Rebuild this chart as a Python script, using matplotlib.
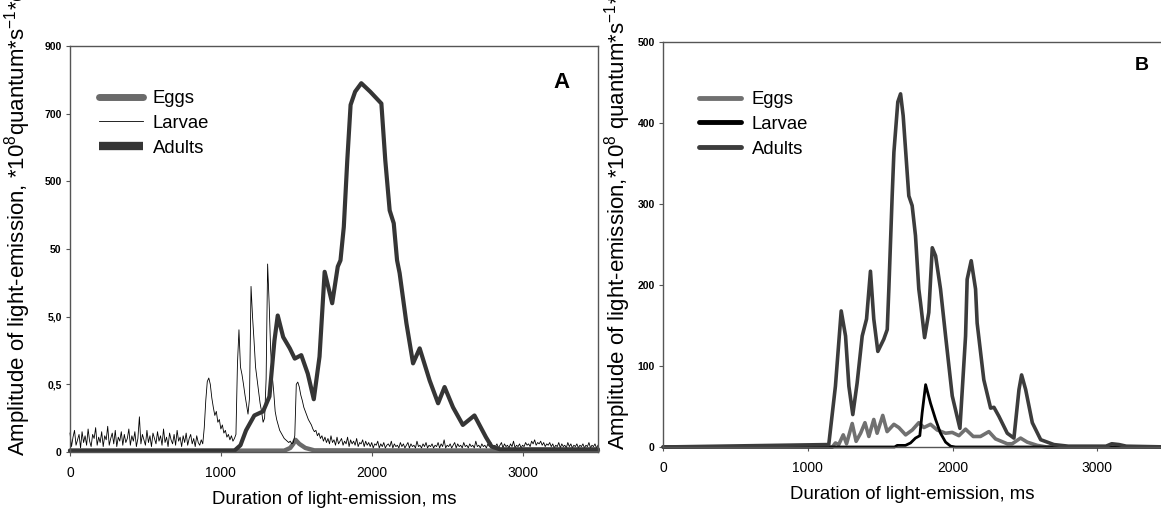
import numpy as np
import matplotlib
matplotlib.use('Agg')
import matplotlib.pyplot as plt

plt.rcParams['font.family'] = ['Liberation Sans', 'DejaVu Sans']
plt.rcParams['mathtext.fontset'] = 'custom'
plt.rcParams['mathtext.rm'] = 'Liberation Sans'
plt.rcParams['mathtext.it'] = 'Liberation Sans'

## Panel A data (ms, amplitude)
eggs_a_ms = [0, 1420, 1460, 1480, 1495, 1520, 1560, 1620, 3500]
eggs_a = [0.01, 0.01, 0.03, 0.06, 0.09, 0.06, 0.03, 0.012, 0.01]

# larvae sampled every 10 ms
larvae_a = [
    0.14, 0.04, 0.11, 0.16, 0.05, 0.09, 0.13, 0.03, 0.15, 0.07, 0.12, 0.05, 0.17, 0.08, 0.04, 0.13, 0.1, 0.18, 0.05, 0.11,
    0.07, 0.15, 0.04, 0.12, 0.09, 0.19, 0.05, 0.1, 0.14, 0.06, 0.16, 0.04, 0.11, 0.08, 0.15, 0.05, 0.13, 0.07, 0.1, 0.17,
    0.05, 0.12, 0.08, 0.15, 0.04, 0.1, 0.26, 0.06, 0.13, 0.09, 0.05, 0.16, 0.07, 0.12, 0.04, 0.14, 0.1, 0.06, 0.15, 0.08,
    0.12, 0.05, 0.17, 0.07, 0.11, 0.04, 0.14, 0.09, 0.06, 0.13, 0.05, 0.16, 0.08, 0.11, 0.04, 0.12, 0.07, 0.14, 0.05, 0.1,
    0.13, 0.06, 0.1, 0.04, 0.12, 0.07, 0.05, 0.09, 0.06, 0.18, 0.38, 0.55, 0.62, 0.5, 0.4, 0.33, 0.27, 0.3, 0.22, 0.24,
    0.17, 0.2, 0.14, 0.16, 0.11, 0.13, 0.09, 0.12, 0.08, 0.1, 0.13, 1.0, 3.2, 0.9, 0.7, 0.5, 0.42, 0.35, 0.28, 0.4,
    14, 5.0, 2.2, 0.9, 0.6, 0.45, 0.36, 0.3, 0.22, 0.25, 0.6, 30, 8, 1.6, 0.7, 0.45, 0.3, 0.24, 0.2, 0.16,
    0.14, 0.12, 0.1, 0.09, 0.08, 0.07, 0.08, 0.06, 0.07, 0.12, 0.5, 0.54, 0.48, 0.42, 0.38, 0.33, 0.3, 0.27, 0.24, 0.22,
    0.2, 0.17, 0.15, 0.16, 0.12, 0.14, 0.1, 0.12, 0.08, 0.11, 0.07, 0.1, 0.06, 0.12, 0.07, 0.09, 0.05, 0.11, 0.06, 0.08,
    0.1, 0.05, 0.08, 0.06, 0.11, 0.04, 0.09, 0.06, 0.08, 0.05, 0.1, 0.04, 0.07, 0.06, 0.09, 0.04, 0.08, 0.05, 0.07, 0.04,
    0.07, 0.03, 0.06, 0.05, 0.08, 0.03, 0.06, 0.04, 0.07, 0.03, 0.05, 0.06, 0.04, 0.08, 0.03, 0.06, 0.04, 0.05, 0.03, 0.07,
    0.04, 0.06, 0.03, 0.05, 0.07, 0.03, 0.06, 0.04, 0.05, 0.03, 0.08, 0.04, 0.05, 0.03, 0.06, 0.04, 0.07, 0.03, 0.05, 0.04,
    0.06, 0.03, 0.05, 0.04, 0.07, 0.03, 0.06, 0.04, 0.09, 0.03, 0.05, 0.04, 0.06, 0.03, 0.05, 0.07, 0.03, 0.06, 0.04, 0.05,
    0.03, 0.07, 0.04, 0.05, 0.03, 0.06, 0.04, 0.05, 0.03, 0.08, 0.04, 0.05, 0.03, 0.06, 0.04, 0.05, 0.03, 0.06, 0.04, 0.07,
    0.03, 0.05, 0.04, 0.06, 0.03, 0.05, 0.07, 0.03, 0.06, 0.04, 0.05, 0.03, 0.06, 0.04, 0.08, 0.03, 0.05, 0.04, 0.06, 0.03,
    0.05, 0.04, 0.07, 0.05, 0.06, 0.04, 0.08, 0.06, 0.09, 0.05, 0.07, 0.06, 0.08, 0.05, 0.07, 0.04, 0.06, 0.05, 0.07, 0.04,
    0.06, 0.03, 0.05, 0.04, 0.07, 0.03, 0.06, 0.04, 0.05, 0.03, 0.07, 0.04, 0.06, 0.03, 0.05, 0.04, 0.06, 0.03, 0.05, 0.04,
    0.06, 0.03, 0.05, 0.04, 0.07, 0.03, 0.05, 0.04, 0.06, 0.03, 0.05]
larvae_a_ms = np.arange(len(larvae_a)) * 10

adults_a_ms = [0, 1090, 1130, 1167, 1222, 1280, 1322, 1355, 1377, 1413, 1457, 1490,
               1533, 1576, 1616, 1654, 1688, 1738, 1775, 1793, 1815, 1838, 1860,
               1890, 1931, 1990, 2064, 2090, 2119, 2146, 2168, 2185, 2230, 2274,
               2318, 2384, 2440, 2483, 2539, 2604, 2681, 2757, 2795, 2850, 3500]
adults_a = [0.01, 0.01, 0.05, 0.16, 0.27, 0.3, 0.41, 2.2, 5.2, 2.5, 1.7, 1.2,
            1.35, 0.72, 0.39, 1.28, 23, 7.9, 27.5, 34, 106, 562, 726,
            765, 790, 765, 730, 562, 186, 120, 34, 22, 4.0, 1.02,
            1.7, 0.57, 0.36, 0.48, 0.33, 0.2, 0.27, 0.11, 0.04, 0.02, 0.02]

ticks_a = [0, 0.5, 5, 50, 500, 700, 900]
ticklabels_a = ['0', '0,5', '5,0', '50', '500', '700', '900']

## Panel B data
eggs_b_ms = [0, 1170, 1191, 1214, 1245, 1268, 1307, 1334, 1365, 1395, 1422, 1456,
             1479, 1518, 1548, 1595, 1629, 1676, 1722, 1767, 1802, 1848, 1894,
             1952, 1998, 2044, 2090, 2143, 2193, 2251, 2297, 2378, 2412, 2470,
             2516, 2585, 2650, 3500]
eggs_b = [0, 0, 5, 3, 15, 4, 29, 7, 17, 30, 13, 34,
          17, 39, 19, 28, 24, 15, 21, 30, 24, 28, 21,
          17, 18, 14, 22, 13, 13, 19, 10, 4, 4, 11,
          6, 2, 0, 0]

larvae_b_ms = [0, 1600, 1618, 1675, 1710, 1744, 1774, 1790, 1814, 1848, 1883, 1917,
               1952, 1987, 2020, 3500]
larvae_b = [0, 0, 2, 2, 5, 11, 14, 42, 77, 54, 34, 17, 6, 1, 0, 0]

adults_b_ms = [0, 1145, 1191, 1231, 1261, 1284, 1311, 1341, 1376, 1406, 1433, 1456,
               1484, 1525, 1549, 1560, 1583, 1595, 1622, 1641, 1659, 1698, 1721,
               1744, 1767, 1779, 1807, 1836, 1860, 1883, 1917, 1952, 1998, 2051,
               2090, 2101, 2129, 2159, 2170, 2216, 2263, 2286, 2320, 2378, 2424,
               2459, 2477, 2505, 2551, 2609, 2700, 2800, 3060, 3100, 3150, 3200, 3500]
adults_b = [0, 3, 75, 168, 137, 75, 40, 79, 137, 158, 217, 158,
            118, 133, 145, 195, 310, 364, 426, 436, 409, 310, 298,
            261, 195, 178, 135, 166, 246, 236, 195, 137, 63, 23,
            137, 207, 230, 195, 153, 83, 48, 49, 38, 17, 11,
            71, 89, 71, 30, 9, 3, 1, 1, 4, 3, 1, 0]

xticks = [0, 1000, 2000, 3000]


# piecewise axis of panel A: linear to 0.5, log 0.5..500, linear 500..900
def fwd(v):
    v = np.asarray(v, dtype=float)
    lo = v / 0.5
    mid = 1 + np.log10(np.clip(v, 0.5, 500) / 0.5)
    hi = 4 + (v - 500) / 200
    return np.where(v <= 0.5, lo, np.where(v <= 500, mid, hi))


def inv(p):
    p = np.asarray(p, dtype=float)
    lo = 0.5 * p
    mid = 0.5 * 10 ** (np.clip(p, 1, 4) - 1)
    hi = 500 + 200 * (p - 4)
    return np.where(p <= 1, lo, np.where(p <= 4, mid, hi))


W, H = 1161, 512
fig = plt.figure(figsize=(W / 100, H / 100), dpi=100)

axA = fig.add_axes([70 / W, 1 - 452 / H, (598 - 70) / W, (452 - 46) / H])
axB = fig.add_axes([663 / W, 1 - 447 / H, (W - 663) / W, (447 - 42) / H])

ytick_font = dict(family=['Liberation Sans Narrow', 'Liberation Sans'], weight='bold', size=7.5)
spine_col = '#555555'
line_kw = dict(solid_joinstyle='round', solid_capstyle='round', clip_on=False)

# panel A
axA.set_yscale('function', functions=(fwd, inv))
lA_e, = axA.plot(eggs_a_ms, eggs_a, color='#6a6a6a', lw=3.2, label='Eggs', **line_kw)
lA_l, = axA.plot(larvae_a_ms, larvae_a, color='black', lw=0.6, label='Larvae', clip_on=False)
lA_a, = axA.plot(adults_a_ms, adults_a, color='#353535', lw=3.0, label='Adults', **line_kw)
axA.set_xlim(0, 3500)
axA.set_ylim(0, 900)
axA.set_yticks(ticks_a)
axA.set_yticklabels(ticklabels_a, fontdict=ytick_font)
axA.yaxis.set_minor_locator(matplotlib.ticker.NullLocator())
axA.text(562 / W, 1 - 82 / H, 'A', transform=fig.transFigure, fontsize=16, fontweight='bold', ha='center', va='center')

legA = axA.legend(handles=[lA_e, lA_l, lA_a], loc='upper left', bbox_to_anchor=(99 / W, 1 - 90 / H),
                  bbox_transform=fig.transFigure, frameon=False, fontsize=13.3,
                  handlelength=2.4, handletextpad=0.5, labelspacing=0.43, borderpad=0, borderaxespad=0)
legA.get_lines()[0].set_linewidth(5)
legA.get_lines()[2].set_linewidth(6)
legA.get_lines()[2].set_solid_capstyle('butt')

# panel B
axB.plot(eggs_b_ms, eggs_b, color='#707070', lw=2.6, label='Eggs', **line_kw)
axB.plot(larvae_b_ms, larvae_b, color='black', lw=2.0, label='Larvae', **line_kw)
axB.plot(adults_b_ms, adults_b, color='#3c3c3c', lw=2.6, label='Adults', **line_kw)
axB.set_xlim(0, 3440)
axB.set_ylim(0, 500)
axB.set_yticks([0, 100, 200, 300, 400, 500])
axB.set_yticklabels(['0', '100', '200', '300', '400', '500'], fontdict=ytick_font)
axB.spines['right'].set_visible(False)
axB.text(1142 / W, 1 - 65 / H, 'B', transform=fig.transFigure, fontsize=14, fontweight='bold', ha='center', va='center')

legB = axB.legend(loc='upper left', bbox_to_anchor=(699 / W, 1 - 91 / H),
                  bbox_transform=fig.transFigure, frameon=False, fontsize=13.3,
                  handlelength=2.3, handletextpad=0.55, labelspacing=0.43, borderpad=0, borderaxespad=0)
for ln in legB.get_lines():
    ln.set_linewidth(3.5)

for ax in (axA, axB):
    ax.set_xticks(xticks)
    ax.set_xticklabels([str(t) for t in xticks], fontsize=10)
    ax.tick_params(axis='x', direction='out', length=3, width=0.8, color=spine_col, pad=7)
    ax.tick_params(axis='y', direction='out', length=3, width=0.8, color=spine_col, pad=3)
    for s in ax.spines.values():
        s.set_color(spine_col)
        s.set_linewidth(1.0)
    ax.set_xlabel('Duration of light-emission, ms', fontsize=13.4, labelpad=8)

ylab = r'Amplitude of light-emission, *10$^{8}$quantum*s$^{-1}$*cm$^{-2}$'
fig.text(18 / W, 1 - 456 / H, ylab, rotation=90, ha='center', va='bottom', fontsize=16)
ylabB = r'Amplitude of light-emission,*10$^{8}$ quantum*s$^{-1}$*cm$^{-2}$'
fig.text(618 / W, 1 - 450 / H, ylabB, rotation=90, ha='center', va='bottom', fontsize=16)

fig.savefig('out.png', dpi=100)
